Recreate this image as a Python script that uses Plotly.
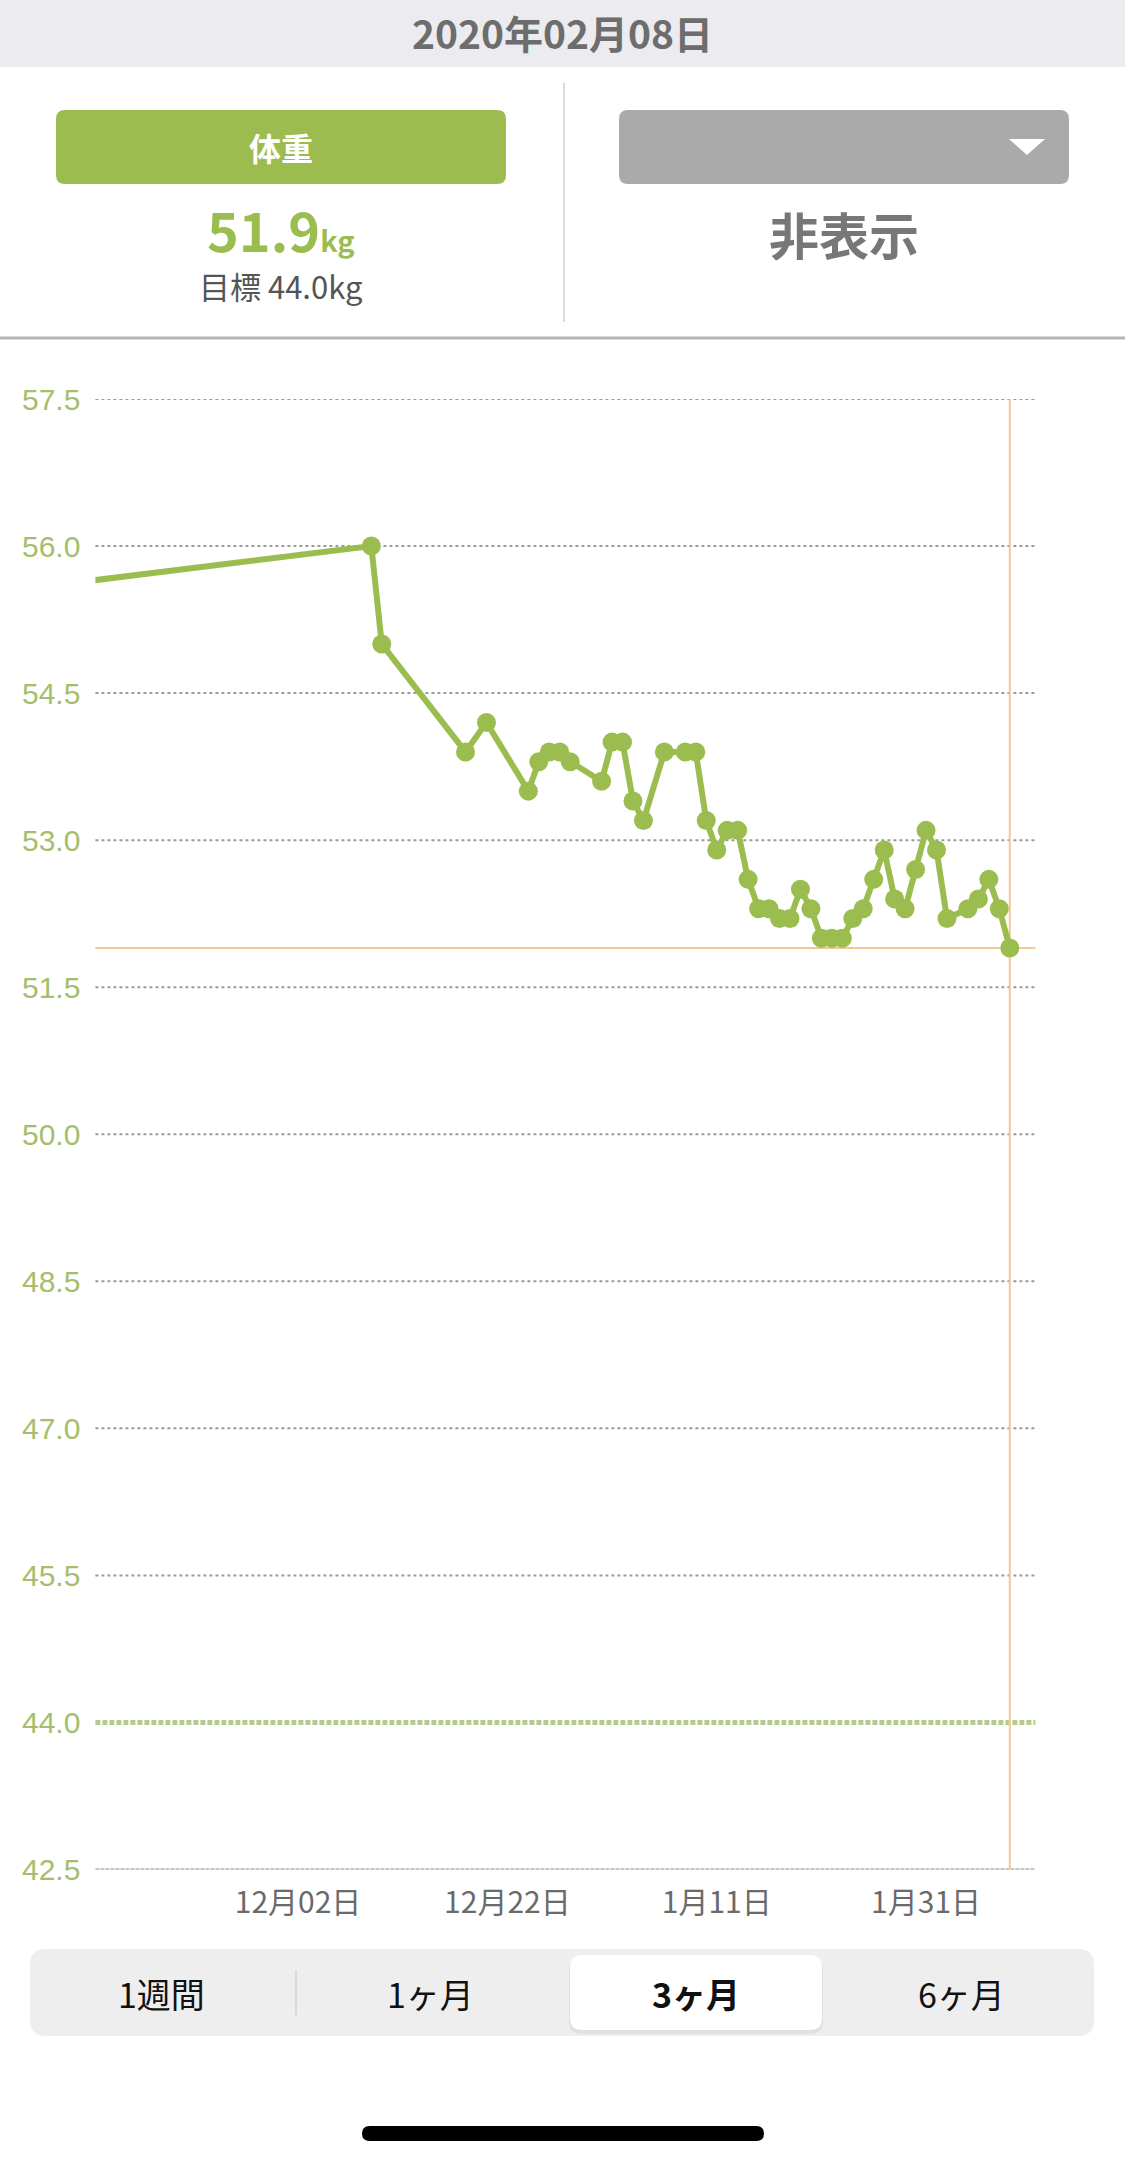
import plotly.graph_objects as go

# ---------------- data ----------------
dates = [
    "2019-11-01", "2019-12-09", "2019-12-10", "2019-12-18", "2019-12-20",
    "2019-12-24", "2019-12-25", "2019-12-26", "2019-12-27", "2019-12-28",
    "2019-12-31", "2020-01-01", "2020-01-02", "2020-01-03", "2020-01-04",
    "2020-01-06", "2020-01-08", "2020-01-09", "2020-01-10", "2020-01-11",
    "2020-01-12", "2020-01-13", "2020-01-14", "2020-01-15", "2020-01-16",
    "2020-01-17", "2020-01-18", "2020-01-19", "2020-01-20", "2020-01-21",
    "2020-01-22", "2020-01-23", "2020-01-24", "2020-01-25", "2020-01-26",
    "2020-01-27", "2020-01-28", "2020-01-29", "2020-01-30", "2020-01-31",
    "2020-02-01", "2020-02-02", "2020-02-04", "2020-02-05", "2020-02-06",
    "2020-02-07", "2020-02-08",
]
weights = [
    55.5, 56.0, 55.0, 53.9, 54.2,
    53.5, 53.8, 53.9, 53.9, 53.8,
    53.6, 54.0, 54.0, 53.4, 53.2,
    53.9, 53.9, 53.9, 53.2, 52.9,
    53.1, 53.1, 52.6, 52.3, 52.3,
    52.2, 52.2, 52.5, 52.3, 52.0,
    52.0, 52.0, 52.2, 52.3, 52.6,
    52.9, 52.4, 52.3, 52.7, 53.1,
    52.9, 52.2, 52.3, 52.4, 52.6,
    52.3, 51.9,
]
y_ticks = [42.5, 44.0, 45.5, 47.0, 48.5, 50.0, 51.5, 53.0, 54.5, 56.0, 57.5]
y_ticktext = ["42.5", "44.0", "45.5", "47.0", "48.5", "50.0", "51.5", "53.0", "54.5", "56.0", "57.5"]
x_ticks = ["2019-12-02", "2019-12-22", "2020-01-11", "2020-01-31"]
x_ticktext = ["12月02日", "12月22日", "1月11日", "1月31日"]
x_range = ["2019-11-12 15:20", "2020-02-10 10:30"]
goal_weight = 44.0
current_weight = 51.9
current_date = "2020-02-08"
header_date = "2020年02月08日"
segments = ["1週間", "1ヶ月", "3ヶ月", "6ヶ月"]
selected_segment = "3ヶ月"

# ---------------- layout helpers ----------------
W, H = 1125, 2164
GREEN = "#9bbd4f"
JP = "Noto Sans CJK JP"


def X(x):
    return x / W


def Y(y):
    return 1 - y / H


def rrect(x0, y0, x1, y1, r):
    return (f"M {X(x0 + r)},{Y(y0)} L {X(x1 - r)},{Y(y0)} Q {X(x1)},{Y(y0)} {X(x1)},{Y(y0 + r)} "
            f"L {X(x1)},{Y(y1 - r)} Q {X(x1)},{Y(y1)} {X(x1 - r)},{Y(y1)} "
            f"L {X(x0 + r)},{Y(y1)} Q {X(x0)},{Y(y1)} {X(x0)},{Y(y1 - r)} "
            f"L {X(x0)},{Y(y0 + r)} Q {X(x0)},{Y(y0)} {X(x0 + r)},{Y(y0)} Z")


PLOT_L, PLOT_R = 95.4, 1035.3
PLOT_T, PLOT_B = 399.0, 1869.5

fig = go.Figure()
fig.add_trace(go.Scatter(
    x=dates, y=weights, mode="lines+markers",
    line=dict(color=GREEN, width=6),
    marker=dict(color=GREEN, size=19),
    cliponaxis=True, hoverinfo="skip", showlegend=False,
))

shapes = []
# gridlines
for v in y_ticks:
    if v == goal_weight:
        shapes.append(dict(type="line", xref="paper", yref="y", x0=X(PLOT_L), x1=X(PLOT_R), y0=v, y1=v,
                           line=dict(color="#b6ca8e", width=5, dash="5px,2px"), layer="below"))
    elif v == y_ticks[0]:
        shapes.append(dict(type="line", xref="paper", yref="y", x0=X(PLOT_L), x1=X(PLOT_R), y0=v, y1=v,
                           line=dict(color="#8c8c8c", width=2, dash="4px,1px"), layer="below"))
    else:
        shapes.append(dict(type="line", xref="paper", yref="y", x0=X(PLOT_L), x1=X(PLOT_R), y0=v, y1=v,
                           line=dict(color="#9a9a9a", width=2, dash="3px,3px"), layer="below"))
# current value lines
shapes.append(dict(type="line", xref="paper", yref="y", x0=X(PLOT_L), x1=X(PLOT_R),
                   y0=current_weight, y1=current_weight, line=dict(color="#f2c896", width=2), layer="below"))
shapes.append(dict(type="line", xref="x", yref="y", x0=current_date, x1=current_date,
                   y0=y_ticks[0], y1=y_ticks[-1], line=dict(color="#f2c896", width=2), layer="below"))

# header band
shapes.append(dict(type="rect", xref="paper", yref="paper", x0=X(-20), x1=X(W + 20), y0=Y(67), y1=Y(-40),
                   fillcolor="#ebebf0", line=dict(width=0)))
# green button
shapes.append(dict(type="path", xref="paper", yref="paper", path=rrect(56, 110, 506, 184, 9),
                   fillcolor="#9cbc50", line=dict(width=0)))
# gray dropdown
shapes.append(dict(type="path", xref="paper", yref="paper", path=rrect(619, 110, 1069, 184, 9),
                   fillcolor="#aaaaaa", line=dict(width=0)))
shapes.append(dict(type="path", xref="paper", yref="paper",
                   path=f"M {X(1009)},{Y(139)} L {X(1045)},{Y(139)} L {X(1027)},{Y(155)} Z",
                   fillcolor="#ffffff", line=dict(width=0)))
# divider
shapes.append(dict(type="line", xref="paper", yref="paper", x0=X(564), x1=X(564), y0=Y(83), y1=Y(322),
                   line=dict(color="#cfcfcf", width=1.5)))
# separator
shapes.append(dict(type="line", xref="paper", yref="paper", x0=X(-20), x1=X(W + 20), y0=Y(338), y1=Y(338),
                   line=dict(color="#b4b4b4", width=3)))
# segmented control
shapes.append(dict(type="path", xref="paper", yref="paper", path=rrect(30, 1949, 1094, 2036, 16),
                   fillcolor="#eeeeef", line=dict(width=0)))
shapes.append(dict(type="line", xref="paper", yref="paper", x0=X(296), x1=X(296), y0=Y(1970), y1=Y(2015),
                   line=dict(color="#d2d2d2", width=1.5)))
shapes.append(dict(type="path", xref="paper", yref="paper", path=rrect(569, 1957, 823, 2034, 13),
                   fillcolor="#e0e0e2", line=dict(width=0)))
shapes.append(dict(type="path", xref="paper", yref="paper", path=rrect(570, 1955, 822, 2030, 12),
                   fillcolor="#ffffff", line=dict(width=0)))
# home indicator
shapes.append(dict(type="path", xref="paper", yref="paper", path=rrect(362, 2126, 764, 2141, 7.5),
                   fillcolor="#000000", line=dict(width=0)))

annotations = [
    dict(text=f"<b>{header_date}</b>", x=X(562), y=Y(32), font=dict(family=JP, size=39, color="#6d6d6d")),
    dict(text="<b>体重</b>", x=X(281), y=Y(147), font=dict(family=JP, size=32, color="#ffffff")),
    dict(text=f"<b>{current_weight:.1f}<span style='font-size:29px'>kg</span></b>", x=X(281), y=Y(229),
         font=dict(family=JP, size=54, color=GREEN)),
    dict(text=f"目標 {goal_weight:.1f}kg", x=X(281), y=Y(285), font=dict(family=JP, size=31, color="#555555")),
    dict(text="<b>非表示</b>", x=X(844), y=Y(233), font=dict(family=JP, size=50, color="#777777")),
]
seg_x = [161, 430, 696, 961]
for lab, sx in zip(segments, seg_x):
    txt = f"<b>{lab}</b>" if lab == selected_segment else lab
    annotations.append(dict(text=txt, x=X(sx), y=Y(1993), font=dict(family=JP, size=34, color="#111111")))
for a in annotations:
    a.update(xref="paper", yref="paper", xanchor="center", yanchor="middle", showarrow=False)

fig.update_layout(
    width=W, height=H, margin=dict(l=0, r=0, t=0, b=0, pad=0, autoexpand=False),
    paper_bgcolor="#ffffff", plot_bgcolor="rgba(0,0,0,0)",
    shapes=shapes, annotations=annotations, showlegend=False,
    xaxis=dict(domain=[X(PLOT_L), X(PLOT_R)], range=x_range, type="date", automargin=False,
               tickvals=x_ticks, ticktext=x_ticktext, showgrid=False, zeroline=False,
               showline=False, ticks="", ticklabelstandoff=12,
               tickfont=dict(family=JP, size=30, color="#6a6a6a")),
    yaxis=dict(domain=[Y(PLOT_B), Y(PLOT_T)], range=[y_ticks[0], y_ticks[-1]], automargin=False,
               tickvals=y_ticks, ticktext=y_ticktext, showgrid=False, zeroline=False,
               showline=False, ticks="", ticklabelstandoff=14,
               tickfont=dict(family="Liberation Sans", size=30, color="#a5be6b")),
)

fig.write_html("out.html")
